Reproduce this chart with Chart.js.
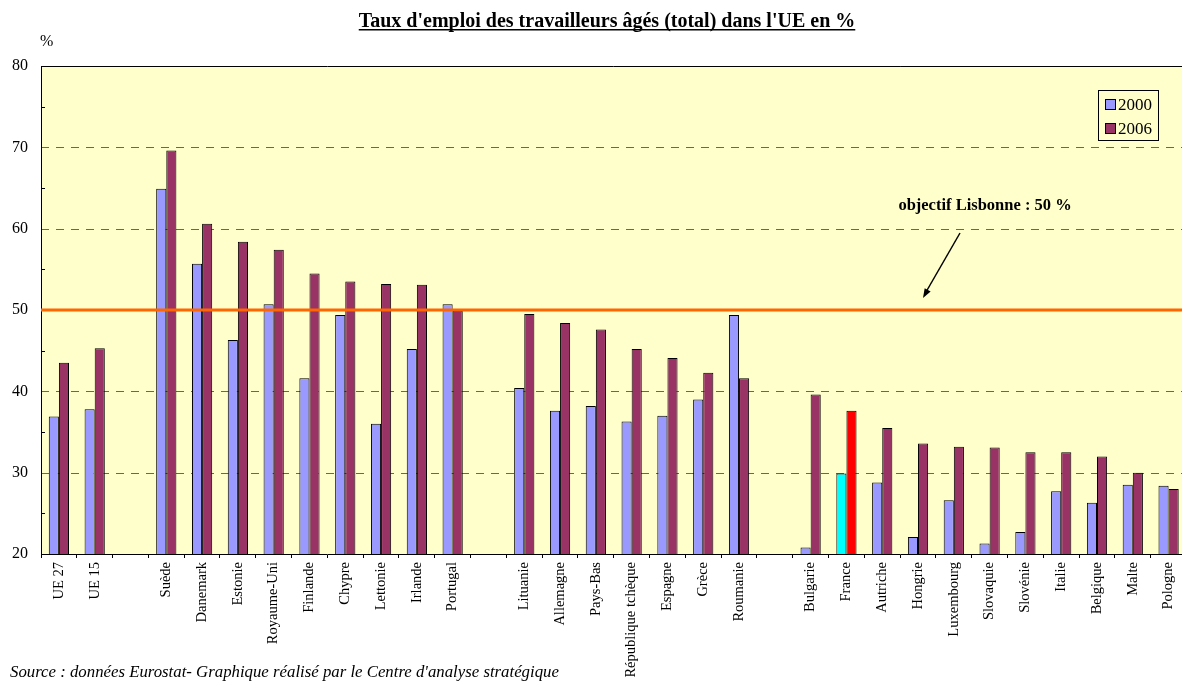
<!DOCTYPE html>
<html>
<head>
<meta charset="utf-8">
<script src="https://cdn.jsdelivr.net/npm/chart.js@4.4.0/dist/chart.umd.min.js"></script>
<style>
html, body { margin: 0; padding: 0; background: #fff; overflow: hidden; }
#wrap { position: absolute; left: 0; top: 0; width: 1190px; height: 681px; }
</style>
</head>
<body>
<div id="wrap"><canvas id="myChart"></canvas></div>
<script>
// Categories - empty strings are the gaps between the country groups
var countries = ['UE 27', 'UE 15', '',
    'Suède', 'Danemark', 'Estonie', 'Royaume-Uni', 'Finlande', 'Chypre', 'Lettonie', 'Irlande', 'Portugal', '',
    'Lituanie', 'Allemagne', 'Pays-Bas', 'République tchèque', 'Espagne', 'Grèce', 'Roumanie', '',
    'Bulgarie', 'France', 'Autriche', 'Hongrie', 'Luxembourg', 'Slovaquie', 'Slovénie', 'Italie', 'Belgique', 'Malte', 'Pologne'];

var values2000 = [36.9, 37.8, null,
    64.9, 55.7, 46.3, 50.7, 41.6, 49.4, 36.0, 45.2, 50.7, null,
    40.4, 37.6, 38.2, 36.3, 37.0, 39.0, 49.4, null,
    20.8, 29.9, 28.8, 22.1, 26.6, 21.3, 22.7, 27.7, 26.3, 28.5, 28.4];

var values2006 = [43.5, 45.3, null,
    69.6, 60.6, 58.4, 57.4, 54.5, 53.5, 53.2, 53.1, 49.9, null,
    49.5, 48.4, 47.6, 45.2, 44.1, 42.3, 41.6, null,
    39.6, 37.6, 35.5, 33.6, 33.2, 33.1, 32.5, 32.5, 32.0, 30.0, 28.0];

var yTicks = [20, 30, 40, 50, 60, 70, 80];
var lisbonTarget = 50;

var serif = '"Liberation Serif", "Times New Roman", serif';

// Background, dashed grid, target line and all the loose texts
var decorPlugin = {
    id: 'decor',
    beforeDraw: function(chart) {
        var ctx = chart.ctx, a = chart.chartArea, y = chart.scales.y;
        ctx.save();
        ctx.fillStyle = '#FFFFCC';
        ctx.fillRect(a.left, a.top, a.right - a.left, a.bottom - a.top);
        ctx.strokeStyle = '#666';
        ctx.lineWidth = 1;
        ctx.setLineDash([8, 7]);
        yTicks.forEach(function(v) {
            if (v === y.min || v === y.max || v === lisbonTarget) return;
            var py = Math.round(y.getPixelForValue(v)) + 0.5;
            ctx.beginPath();
            ctx.moveTo(a.left, py);
            ctx.lineTo(a.right, py);
            ctx.stroke();
        });
        ctx.restore();
    },
    afterDatasetsDraw: function(chart) {
        var ctx = chart.ctx, a = chart.chartArea, y = chart.scales.y;
        ctx.save();

        // objectif Lisbonne line
        var py = y.getPixelForValue(lisbonTarget);
        ctx.strokeStyle = '#FF6600';
        ctx.lineWidth = 3;
        ctx.beginPath();
        ctx.moveTo(a.left, py);
        ctx.lineTo(a.right, py);
        ctx.stroke();

        // top frame line
        ctx.strokeStyle = '#000';
        ctx.lineWidth = 1;
        ctx.beginPath();
        ctx.moveTo(a.left, Math.round(a.top) + 0.5);
        ctx.lineTo(a.right, Math.round(a.top) + 0.5);
        ctx.stroke();

        // minor ticks inside the axis every 5
        for (var v = 25; v < 80; v += 10) {
            var ty = Math.round(y.getPixelForValue(v)) + 0.5;
            ctx.beginPath();
            ctx.moveTo(a.left, ty);
            ctx.lineTo(a.left + 4, ty);
            ctx.stroke();
        }

        // arrow to the target line
        ctx.lineWidth = 1.5;
        ctx.beginPath();
        ctx.moveTo(960, 233);
        ctx.lineTo(926, 292);
        ctx.stroke();
        var ang = Math.atan2(298 - 233, 923 - 960);
        ctx.beginPath();
        ctx.moveTo(923, 298);
        ctx.lineTo(923 - 10 * Math.cos(ang - 0.35), 298 - 10 * Math.sin(ang - 0.35));
        ctx.lineTo(923 - 10 * Math.cos(ang + 0.35), 298 - 10 * Math.sin(ang + 0.35));
        ctx.closePath();
        ctx.fillStyle = '#000';
        ctx.fill();

        ctx.fillStyle = '#000';
        ctx.textBaseline = 'alphabetic';
        ctx.font = 'bold 16.5px ' + serif;
        ctx.textAlign = 'center';
        ctx.fillText('objectif Lisbonne : 50 %', 985, 210);

        // title, underlined
        ctx.font = 'bold 20px ' + serif;
        var title = "Taux d'emploi des travailleurs âgés (total) dans l'UE en %";
        var tw = ctx.measureText(title).width;
        ctx.fillText(title, 607, 27);
        ctx.fillRect(607 - tw / 2, 29, tw, 1.5);

        ctx.textAlign = 'left';
        ctx.font = '16px ' + serif;
        ctx.fillText('%', 40, 46);

        ctx.font = 'italic 16.8px ' + serif;
        ctx.fillText("Source : données Eurostat- Graphique réalisé par le Centre d'analyse stratégique", 10, 677);

        // legend
        ctx.fillStyle = '#FFFFCC';
        ctx.fillRect(1098.5, 90.5, 60, 50);
        ctx.strokeStyle = '#000';
        ctx.lineWidth = 1;
        ctx.strokeRect(1098.5, 90.5, 60, 50);
        var items = [['2000', '#9999FF'], ['2006', '#993366']];
        items.forEach(function(it, i) {
            var sy = 99.5 + i * 24;
            ctx.fillStyle = it[1];
            ctx.fillRect(1105.5, sy, 10, 10);
            ctx.strokeStyle = '#000';
            ctx.strokeRect(1105.5, sy, 10, 10);
            ctx.fillStyle = '#000';
            ctx.font = '17px ' + serif;
            ctx.fillText(it[0], 1118, sy + 10);
        });

        ctx.restore();
    }
};

var ctx = document.getElementById('myChart').getContext('2d');

var myChart = new Chart(ctx, {
    type: 'bar',
    data: {
        labels: countries,
        datasets: [{
            label: '2000',
            data: values2000,
            backgroundColor: function(c) { return countries[c.dataIndex] === 'France' ? '#00FFFF' : '#9999FF'; },
            borderColor: '#000',
            borderWidth: 1
        }, {
            label: '2006',
            data: values2006,
            backgroundColor: function(c) { return countries[c.dataIndex] === 'France' ? '#FF0000' : '#993366'; },
            borderColor: '#000',
            borderWidth: 1
        }]
    },
    options: {
        responsive: true,
        maintainAspectRatio: false,
        animation: false,
        categoryPercentage: 0.565,
        barPercentage: 1,
        layout: { padding: { top: 66, left: 0, right: 0, bottom: 0 } },
        plugins: {
            legend: { display: false },
            tooltip: { enabled: false }
        },
        scales: {
            x: {
                grid: { drawOnChartArea: false, drawTicks: true, tickLength: 4, color: '#000', offset: true },
                border: { color: '#000', width: 1 },
                ticks: {
                    autoSkip: false, maxRotation: 90, minRotation: 90, padding: 4,
                    color: '#000', font: { family: serif, size: 14.5 }
                },
                afterFit: function(scale) { scale.height = 127; }
            },
            y: {
                min: 20,
                max: 80,
                grid: { drawOnChartArea: false, drawTicks: false },
                border: { color: '#000', width: 1 },
                ticks: {
                    stepSize: 10, padding: 13,
                    color: '#000', font: { family: serif, size: 16 }
                },
                afterFit: function(scale) { scale.width = 41; }
            }
        }
    },
    plugins: [decorPlugin]
});
</script>
</body>
</html>
